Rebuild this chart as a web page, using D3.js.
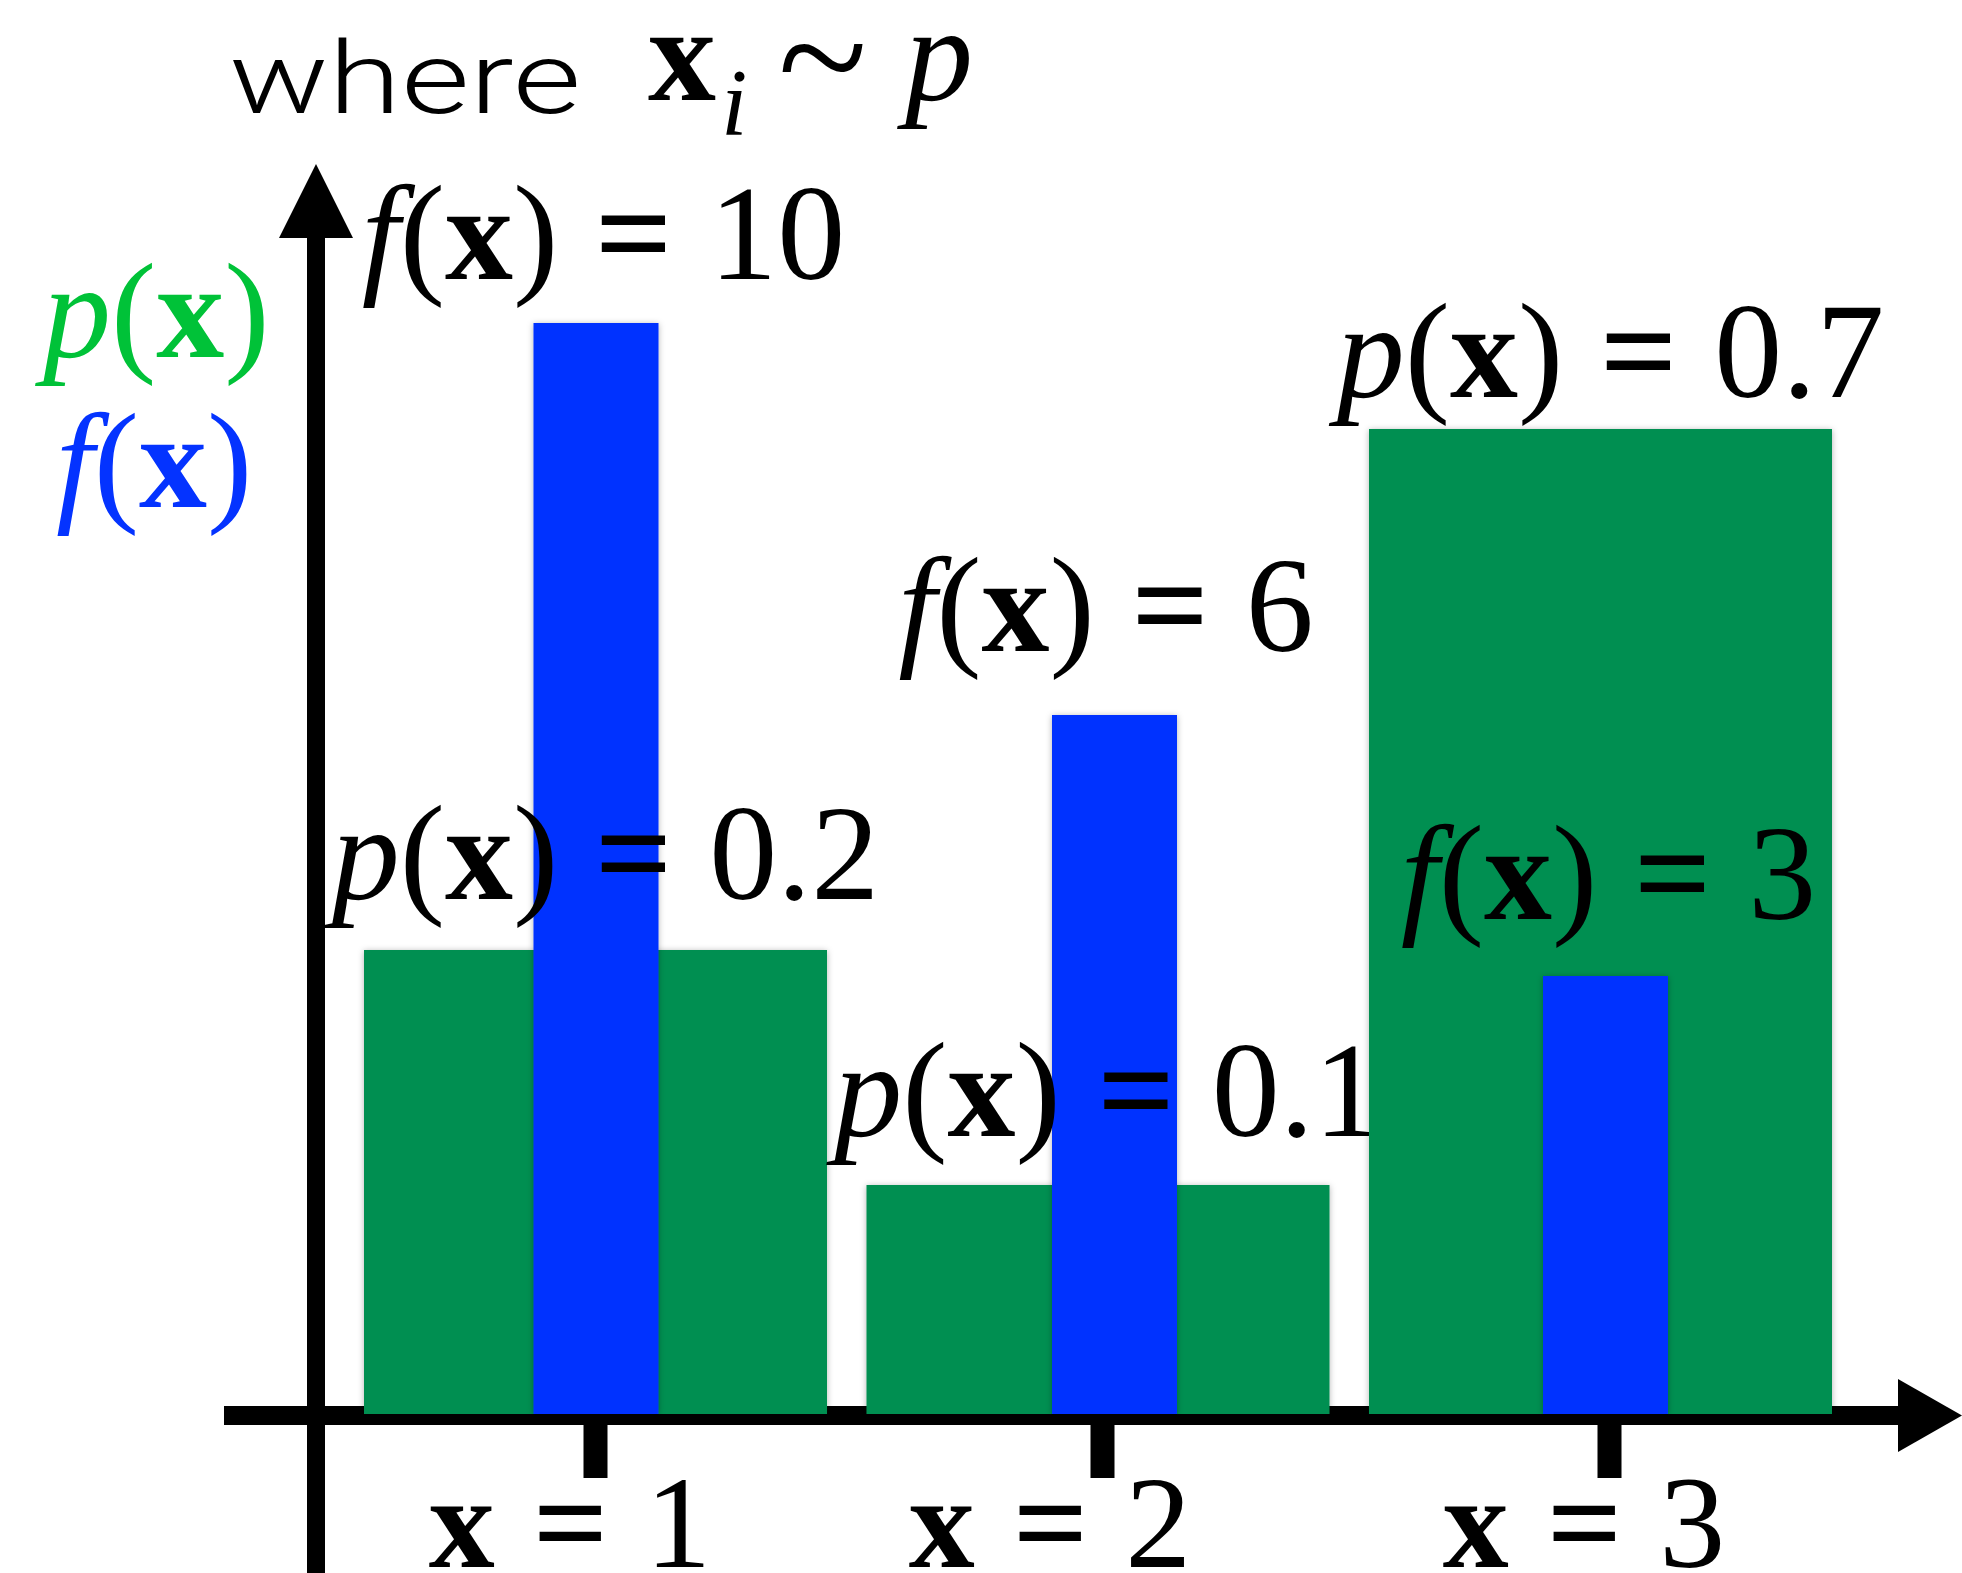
<!DOCTYPE html>
<html><head><meta charset="utf-8">
<script src="https://cdn.jsdelivr.net/npm/d3@7"></script>
<style>html,body{margin:0;padding:0;background:#fff;} svg{display:block;}</style>
</head><body>
<svg id="chart" width="1962" height="1573"></svg>
<script>
// ---- data ----
const categories = ["1", "2", "3"];
const pValues = [0.2, 0.1, 0.7];
const fValues = [10, 6, 3];
const pLabelText = ["0.2", "0.1", "0.7"];
const fLabelText = ["10", "6", "3"];

// ---- layout ----
const W = 1962, H = 1573;
const baseY = 1414;          // bar baseline
const axisY = 1415.5;        // horizontal axis centre
const axisX = 316;           // vertical axis centre
const FS = 136;              // math font size
const serif = "'Liberation Serif','Times New Roman',serif";
const GREEN_BAR = "#008f51", BLUE_BAR = "#0433ff", GREEN_TXT = "#00c238";
const fGap = [44, 64, 57], pGap = [51, 49, 32];
const blueShift = [0.5, 16.5, 5];
const tickLabelShift = [-25, -52, -25];

const svg = d3.select("#chart");

const defs = svg.append("defs");
const flt = defs.append("filter").attr("id", "shadow")
  .attr("x", "-10%").attr("y", "-10%").attr("width", "120%").attr("height", "120%");
flt.append("feDropShadow").attr("dx", 0).attr("dy", 1).attr("stdDeviation", 3)
  .attr("flood-color", "#000").attr("flood-opacity", 0.3);

// scales
const x = d3.scaleBand().domain(categories).range([364, 1832]).paddingInner(0.0786).paddingOuter(0);
const xTick = d3.scalePoint().domain(categories).range([595, 1609]);
const pSorted = [0, ...pValues.slice().sort(d3.ascending)];
const fSorted = [0, ...fValues.slice().sort(d3.ascending)];
const yP = d3.scaleLinear().domain(pSorted).range([baseY, 1185, 950, 429]);
const yF = d3.scaleLinear().domain(fSorted).range([baseY, 976, 715, 323]);
const blueW = 125;

// math-text helper: parts = [text, kind, dxEm]
function mathText(g, parts, attrs) {
  const t = g.append("text").attr("font-family", serif).attr("font-size", attrs.size || FS)
    .attr("fill", attrs.fill || "#000").attr("x", attrs.x).attr("y", attrs.y)
    .attr("text-anchor", attrs.anchor || "start");
  parts.forEach(([s, k, dx]) => {
    const ts = t.append("tspan").text(s);
    if (k === "i") ts.attr("font-style", "italic");
    if (k === "b") ts.attr("font-weight", "bold");
    if (dx) ts.attr("dx", dx + "em");
  });
  return t;
}

// ---- title ----
svg.append("text").attr("x", 229).attr("y", 113)
  .attr("font-family", "Roboto,'Open Sans','Liberation Sans',sans-serif").attr("font-weight", 300)
  .attr("font-size", 100).attr("textLength", 352).attr("lengthAdjust", "spacingAndGlyphs")
  .text("where");
const tt = svg.append("text").attr("font-family", serif).attr("font-size", FS).attr("y", 100);
tt.append("tspan").attr("x", 648).attr("font-weight", "bold").text("x");
tt.append("tspan").attr("x", 721).attr("y", 135).attr("font-style", "italic").attr("font-size", 95).text("i");
tt.append("tspan").attr("x", 778).attr("y", 113).attr("font-size", 165).text("~");
tt.append("tspan").attr("x", 905).attr("y", 100).attr("font-style", "italic").text("p");

// ---- legend ----
mathText(svg, [["p", "i"], ["(", "r"], ["x", "b"], [")", "r"]], {x: 43, y: 357, fill: GREEN_TXT});
mathText(svg, [["f", "i"], ["(", "r"], ["x", "b"], [")", "r"]], {x: 56, y: 507, fill: BLUE_BAR});

// ---- axes ----
svg.append("line").attr("x1", axisX).attr("x2", axisX).attr("y1", 230).attr("y2", H)
  .attr("stroke", "#000").attr("stroke-width", 18);
svg.append("path").attr("d", `M${axisX},164L${axisX - 37},238L${axisX + 37},238Z`).attr("fill", "#000");
svg.append("line").attr("x1", 224).attr("x2", 1902).attr("y1", axisY).attr("y2", axisY)
  .attr("stroke", "#000").attr("stroke-width", 19);
svg.append("path").attr("d", `M1898,${axisY - 36.5}L1962,${axisY}L1898,${axisY + 36.5}Z`).attr("fill", "#000");

const xAxis = d3.axisBottom(xTick).tickSize(53).tickSizeOuter(0).tickFormat("");
const ax = svg.append("g").attr("transform", `translate(0,${axisY + 9.5})`).call(xAxis);
ax.select(".domain").remove();
ax.selectAll(".tick line").attr("stroke", "#000").attr("stroke-width", 24);

// ---- bars + labels, drawn category by category ----
const cx = c => x(c) + x.bandwidth() / 2;
const eqParts = (lhs, rhs) => [[lhs, "i"], ["(", "r"], ["x", "b"], [")", "r"], ["=", "b", 0.27], [rhs, "r", 0.27]];

const groups = svg.append("g").selectAll("g.cat").data(categories).join("g").attr("class", "cat");
groups.each(function (c, i) {
  const g = d3.select(this);
  g.append("rect")
    .attr("x", x(c)).attr("width", x.bandwidth())
    .attr("y", yP(pValues[i])).attr("height", baseY - yP(pValues[i]))
    .attr("fill", GREEN_BAR).attr("filter", "url(#shadow)");
  g.append("rect")
    .attr("x", cx(c) + blueShift[i] - blueW / 2).attr("width", blueW)
    .attr("y", yF(fValues[i])).attr("height", baseY - yF(fValues[i]))
    .attr("fill", BLUE_BAR).attr("filter", "url(#shadow)");
  mathText(g, eqParts("p", pLabelText[i]),
    {x: cx(c) + 10, y: yP(pValues[i]) - pGap[i], anchor: "middle"});
  mathText(g, eqParts("f", fLabelText[i]),
    {x: cx(c) + 8, y: yF(fValues[i]) - fGap[i], anchor: "middle"});
});

// ---- tick labels ----
categories.forEach((c, i) => {
  mathText(svg, [["x", "b"], ["=", "b", 0.29], [c, "r", 0.28]],
    {x: xTick(c) + tickLabelShift[i], y: 1567, anchor: "middle", size: 132});
});
</script>
</body></html>
